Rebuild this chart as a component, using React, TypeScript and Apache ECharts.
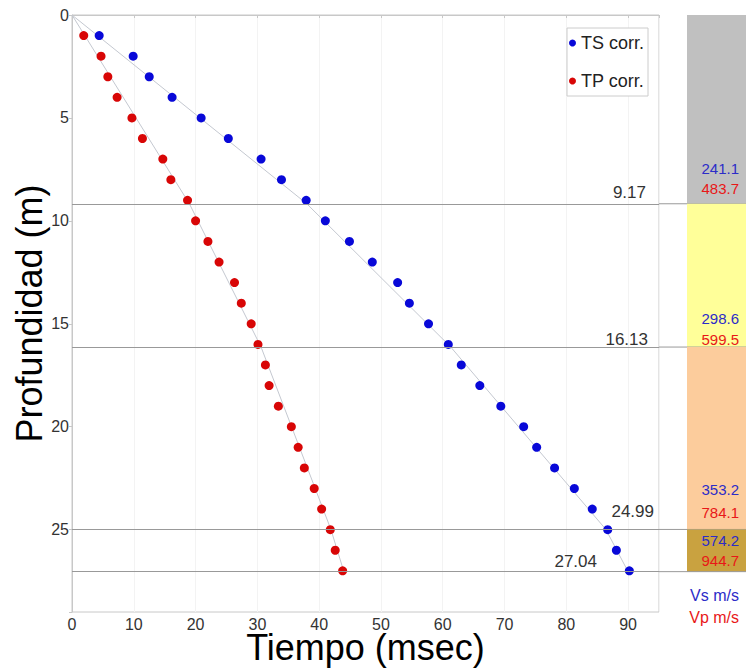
import React, { useEffect, useRef } from "react";
import * as echarts from "echarts";

const depths = [1, 2, 3, 4, 5, 6, 7, 8, 9, 10, 11, 12, 13, 14, 15, 16, 17, 18, 19, 20, 21, 22, 23, 24, 25, 26, 27];
const tsTimes = [4.4, 9.9, 12.5, 16.2, 20.9, 25.3, 30.6, 33.9, 37.9, 41.0, 44.9, 48.6, 52.7, 54.6, 57.7, 60.9, 63.0, 66.0, 69.4, 73.1, 75.2, 78.1, 81.3, 84.2, 86.7, 88.1, 90.2];
const tpTimes = [1.9, 4.7, 5.8, 7.3, 9.7, 11.4, 14.7, 16.0, 18.7, 20.0, 22.0, 23.8, 26.3, 27.4, 29.0, 30.1, 31.3, 31.9, 33.4, 35.5, 36.6, 37.6, 39.2, 40.4, 41.8, 42.6, 43.8];

const fitDepths = [0, 9.17, 16.13, 24.99, 27.04];
const tsFitTimes = [0, 38.0, 61.3, 86.4, 90.0];
const tpFitTimes = [0, 19.0, 30.6, 41.9, 44.0];

const layerTops = [0, 9.17, 16.13, 24.99];
const layerBottoms = [9.17, 16.13, 24.99, 27.04];
const vsValues = [241.1, 298.6, 353.2, 574.2];
const vpValues = [483.7, 599.5, 784.1, 944.7];
const layerColors = ["#c0c0c0", "#ffff99", "#fccc9c", "#c9a240"];

const xTicks = [0, 10, 20, 30, 40, 50, 60, 70, 80, 90];
const yTicks = [0, 5, 10, 15, 20, 25];

const FONT = "Liberation Sans, Arial, sans-serif";
const BLUE = "#0808d8";
const RED = "#d80606";
const TXT_BLUE = "#2c2cc8";
const TXT_RED = "#e81818";

export default function App() {
  const ref = useRef<HTMLDivElement>(null);
  useEffect(() => {
    document.body.style.margin = "0";
    if (!ref.current) return;
    const chart = echarts.init(ref.current, null, { renderer: "svg" });
    const labelOffsets = [[-8, 2], [-6, 6], [0, -4], [-57, 3]];
    const vsDy = [-35, -29, -40, -31];
    const vpDy = [-15, -8, -17, -11];
    const option: any = {
      animation: false,
      textStyle: { fontFamily: FONT },
      grid: [
        {
          left: 72, right: 87, top: 15, bottom: 56,
          outerBoundsMode: "none", containLabel: false,
          show: true, borderColor: "#c8c8c8", borderWidth: 1, backgroundColor: "#fff",
        },
        { left: 659, right: 0, top: 15, bottom: 56, outerBoundsMode: "none", containLabel: false },
      ],
      xAxis: [
        {
          gridIndex: 0,
          type: "value",
          min: 0,
          max: 95,
          interval: 10,
          name: "Tiempo (msec)",
          nameLocation: "middle",
          nameGap: 20,
          nameMoveOverlap: false,
          nameTextStyle: { fontSize: 36, lineHeight: 30, color: "#000", fontFamily: FONT },
          axisLine: { show: true, lineStyle: { color: "#c8c8c8" } },
          axisTick: { show: true, length: 3, lineStyle: { color: "#c8c8c8" } },
          axisLabel: {
            fontSize: 16,
            lineHeight: 16,
            color: "#333",
            margin: 4,
            formatter: (v: number) => (xTicks.includes(v) ? String(v) : ""),
          },
          splitLine: { show: true, lineStyle: { color: "#f3f3f3" } },
        },
        { gridIndex: 1, type: "value", min: 0, max: 87, show: false },
      ],
      yAxis: [
        {
          gridIndex: 0,
          type: "value",
          inverse: true,
          min: 0,
          max: 29,
          interval: 5,
          name: "Profundidad (m)",
          nameLocation: "middle",
          nameGap: 25,
          nameMoveOverlap: false,
          nameRotate: 90,
          nameTextStyle: { fontSize: 36, color: "#000", fontFamily: FONT },
          axisLine: { show: true, lineStyle: { color: "#c8c8c8" } },
          axisTick: { show: true, length: 3, lineStyle: { color: "#c8c8c8" } },
          axisLabel: {
            fontSize: 16,
            color: "#333",
            margin: 3,
            formatter: (v: number) => (yTicks.includes(v) ? String(v) : ""),
          },
          splitLine: { show: false },
        },
        { gridIndex: 1, type: "value", inverse: true, min: 0, max: 29, show: false },
      ],
      legend: {
        data: ["TS corr.", "TP corr."],
        orient: "vertical",
        left: 567,
        top: 28,
        icon: "circle",
        itemWidth: 7,
        itemHeight: 7,
        itemGap: 20,
        padding: [6, 4, 6, 2],
        borderColor: "#cccccc",
        borderWidth: 1,
        backgroundColor: "#fff",
        textStyle: { fontSize: 18, color: "#222", fontFamily: FONT },
      },
      series: [
        {
          type: "line",
          xAxisIndex: 0,
          yAxisIndex: 0,
          data: fitDepths.map((d, i) => [tsFitTimes[i], d]),
          symbol: "none",
          lineStyle: { color: "#c4c8d0", width: 1 },
          silent: true,
          z: 1,
          markLine: {
            symbol: "none",
            silent: true,
            lineStyle: { color: "#999", width: 1, type: "solid" },
            label: {
              position: "insideEndTop",
              formatter: "{c}",
              fontSize: 17,
              color: "#333",
              fontFamily: FONT,
            },
            data: layerBottoms.map((b, i) => ({
              yAxis: b,
              label: { offset: labelOffsets[i] },
            })),
          },
        },
        {
          type: "line",
          xAxisIndex: 0,
          yAxisIndex: 0,
          data: fitDepths.map((d, i) => [tpFitTimes[i], d]),
          symbol: "none",
          lineStyle: { color: "#c4c8d0", width: 1 },
          silent: true,
          z: 1,
        },
        {
          name: "TS corr.",
          type: "scatter",
          xAxisIndex: 0,
          yAxisIndex: 0,
          data: depths.map((d, i) => [tsTimes[i], d]),
          symbolSize: 9,
          itemStyle: { color: BLUE, opacity: 1 },
          z: 3,
        },
        {
          name: "TP corr.",
          type: "scatter",
          xAxisIndex: 0,
          yAxisIndex: 0,
          data: depths.map((d, i) => [tpTimes[i], d]),
          symbolSize: 9,
          itemStyle: { color: RED, opacity: 1 },
          z: 3,
        },
        {
          type: "custom",
          xAxisIndex: 1,
          yAxisIndex: 1,
          silent: true,
          data: layerTops.map((t, i) => [t, layerBottoms[i], vsValues[i], vpValues[i]]),
          renderItem: (params: any, api: any) => {
            const i = params.dataIndex;
            const top = api.value(0);
            const bot = api.value(1);
            const p1 = api.coord([28, top]);
            const p2 = api.coord([87, bot]);
            const pl = api.coord([0, bot]);
            const tx = api.coord([80, bot])[0];
            return {
              type: "group",
              children: [
                {
                  type: "rect",
                  shape: { x: p1[0], y: p1[1], width: p2[0] - p1[0], height: p2[1] - p1[1] },
                  style: { fill: layerColors[i] },
                },
                {
                  type: "line",
                  shape: { x1: pl[0], y1: p2[1], x2: p2[0], y2: p2[1] },
                  style: { stroke: "#999", lineWidth: 1 },
                },
                {
                  type: "text",
                  x: tx,
                  y: p2[1] + vsDy[i],
                  style: {
                    text: String(api.value(2)),
                    fill: TXT_BLUE,
                    font: `15px ${FONT}`,
                    align: "right",
                    verticalAlign: "middle",
                  },
                },
                {
                  type: "text",
                  x: tx,
                  y: p2[1] + vpDy[i],
                  style: {
                    text: String(api.value(3)),
                    fill: TXT_RED,
                    font: `15px ${FONT}`,
                    align: "right",
                    verticalAlign: "middle",
                  },
                },
              ],
            };
          },
        },
      ],
      graphic: [
        {
          type: "text",
          x: 739,
          y: 595,
          style: { text: "Vs m/s", fill: TXT_BLUE, font: `16px ${FONT}`, align: "right", verticalAlign: "middle" },
        },
        {
          type: "text",
          x: 739,
          y: 617,
          style: { text: "Vp m/s", fill: TXT_RED, font: `16px ${FONT}`, align: "right", verticalAlign: "middle" },
        },
      ],
    };
    chart.setOption(option);
    return () => chart.dispose();
  }, []);
  return <div ref={ref} style={{ width: 746, height: 668 }} />;
}
